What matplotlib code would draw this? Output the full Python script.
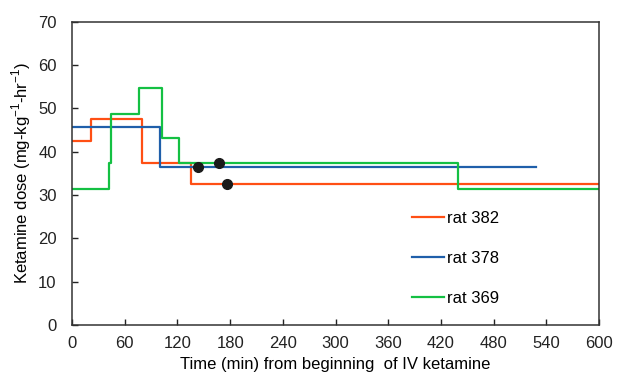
import matplotlib
matplotlib.use('Agg')
import matplotlib.pyplot as plt

plt.rcParams['font.family'] = ['Liberation Sans', 'DejaVu Sans']

# step changes in infusion rate: time (min) where a new dose starts, dose value
red_t = [0, 22, 80, 135, 600]
red_v = [42.5, 47.5, 37.5, 32.5, 32.5]
blue_t = [0, 100, 528]
blue_v = [45.6, 36.5, 36.5]
green_t = [0, 42, 44, 76, 102, 122, 439, 600]
green_v = [31.5, 37.3, 48.8, 54.6, 43.1, 37.3, 31.4, 31.4]

dots_t = [143, 167, 176]
dots_v = [36.5, 37.3, 32.5]

labels = ['rat 382', 'rat 378', 'rat 369']
colors = ['#FF4F14', '#1F5FAA', '#14C043']
x_ticks = list(range(0, 601, 60))
y_ticks = list(range(0, 71, 10))

fig = plt.figure(figsize=(6.17, 3.8), dpi=100)
ax = fig.add_axes([0.1167, 0.1447, 0.8543, 0.7983])

ax.step(red_t, red_v, where='post', color=colors[0], lw=1.6, label=labels[0])
ax.step(blue_t, blue_v, where='post', color=colors[1], lw=1.6, label=labels[1])
ax.step(green_t, green_v, where='post', color=colors[2], lw=1.6, label=labels[2])
ax.plot(dots_t, dots_v, 'o', color='#1a1a1a', ms=7, zorder=5)

ax.set_xlim(0, 600)
ax.set_ylim(0, 70)
ax.set_xticks(x_ticks)
ax.set_yticks(y_ticks)
ax.tick_params(direction='in', length=4, width=1, labelsize=12, colors='#222222')
ax.tick_params(axis='y', pad=11)
ax.tick_params(axis='x', pad=8)
for s in ax.spines.values():
    s.set_linewidth(1.1)
    s.set_color('#333333')

ax.set_xlabel('Time (min) from beginning  of IV ketamine', fontsize=12, labelpad=4)
ax.set_ylabel('Ketamine dose (mg-kg$^{\\mathregular{-1}}$-hr$^{\\mathregular{-1}}$)',
              fontsize=12, labelpad=4)

ax.legend(loc='upper left', bbox_to_anchor=(0.645, 0.377), frameon=False,
          fontsize=12, labelspacing=1.52, handlelength=1.9, handletextpad=0.2,
          borderpad=0, borderaxespad=0)

fig.savefig('out.png', dpi=100)
